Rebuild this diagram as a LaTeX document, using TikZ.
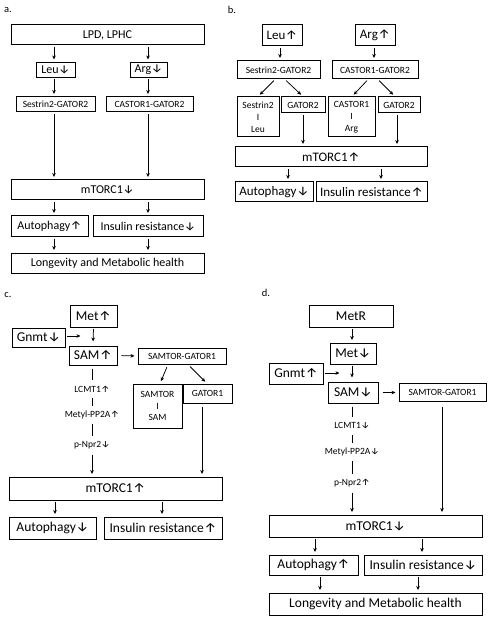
\documentclass[tikz,border=0pt]{standalone}
\usepackage{fontspec}
\setmainfont{Carlito}
\newfontfamily\arrfont{Fira Sans}
\usetikzlibrary{arrows.meta}
\newcommand{\uar}{{\arrfont\kern0.03em ↑}}
\newcommand{\dar}{{\arrfont\kern0.03em ↓}}
\begin{document}
\begin{tikzpicture}[x=1pt,y=-1pt,
  box/.style={draw, line width=1pt, inner sep=0pt, align=center},
  fa/.style={font=\fontsize{12}{14}\selectfont},
  fb/.style={font=\fontsize{13}{15}\selectfont},
  fc/.style={font=\fontsize{13.5}{16}\selectfont},
  fs/.style={font=\fontsize{9.5}{11.8}\selectfont},
  lab/.style={font=\fontsize{10.5}{12}\selectfont},
  arr/.style={-{Stealth[length=4pt,width=3.6pt]}, line width=0.75pt, shorten >=2.5pt, shorten <=1.5pt},
  ln/.style={line width=0.75pt},
  chain/.style={fs, inner sep=0pt, minimum height=16pt}]
\useasboundingbox (0,0) rectangle (489,617);
% ---------------- panel a
\node[lab] (la) at (8,10) {a.};
\node[box,fa,minimum width=193pt,minimum height=20pt] (lpd) at (107.5,35) {LPD, LPHC};
\node[box,fa,minimum width=39pt,minimum height=15pt] (leua) at (55.5,70) {Leu\dar};
\node[box,fa,minimum width=37pt,minimum height=15pt] (arga) at (148.5,70) {Arg\dar};
\node[box,fs,minimum width=79pt,minimum height=15pt] (sesa) at (55.5,104.5) {Sestrin2-GATOR2};
\node[box,fs,minimum width=87pt,minimum height=15pt] (casa) at (149.5,104.5) {CASTOR1-GATOR2};
\node[box,fa,minimum width=193pt,minimum height=20pt] (mta) at (107.5,190) {mTORC1\dar};
\node[box,fa,minimum width=77pt,minimum height=21pt] (auta) at (49.5,226.5) {Autophagy\uar};
\node[box,fa,minimum width=110pt,minimum height=21pt] (insa) at (148,226.5) {Insulin resistance\dar};
\node[box,fa,minimum width=193pt,minimum height=20pt] (lona) at (107.5,263) {Longevity and Metabolic health};
\draw[arr] (lpd.south -| 54,0) -- (leua.north -| 54,0);
\draw[arr] (lpd.south -| 148,0) -- (arga.north -| 148,0);
\draw[arr] (leua.south -| 54,0) -- (sesa.north -| 54,0);
\draw[arr] (arga.south -| 148,0) -- (casa.north -| 148,0);
\draw[arr] (sesa.south -| 54,0) -- (mta.north -| 54,0);
\draw[arr] (casa.south -| 148,0) -- (mta.north -| 148,0);
\draw[arr] (mta.south -| 54,0) -- (auta.north -| 54,0);
\draw[arr] (mta.south -| 148,0) -- (insa.north -| 148,0);
\draw[arr] (auta.south -| 54,0) -- (lona.north -| 54,0);
\draw[arr] (insa.south -| 148,0) -- (lona.north -| 148,0);
% ---------------- panel b
\node[lab] (lb) at (232,10) {b.};
\node[box,fb,minimum width=40pt,minimum height=21pt] (leub) at (282,35.5) {Leu\uar};
\node[box,fb,minimum width=40pt,minimum height=21pt] (argb) at (375,35.5) {Arg\uar};
\node[box,fs,minimum width=83pt,minimum height=18pt] (sesb) at (278.5,70) {Sestrin2-GATOR2};
\node[box,fs,minimum width=86pt,minimum height=18pt] (casb) at (375,70) {CASTOR1-GATOR2};
\node[box,fs,minimum width=42pt,minimum height=40pt] (slb) at (258,117) {Sestrin2\\I\\Leu};
\node[box,fs,minimum width=44pt,minimum height=16pt] (gab) at (303,105) {GATOR2};
\node[box,fs,minimum width=47pt,minimum height=40pt] (calb) at (351.5,117) {CASTOR1\\I\\Arg};
\node[box,fs,minimum width=42pt,minimum height=16pt] (gbb) at (399,105) {GATOR2};
\node[box,fb,minimum width=192pt,minimum height=20pt] (mtb) at (331,157) {mTORC1\uar};
\node[box,fb,minimum width=78pt,minimum height=20pt] (autb) at (274,192) {Autophagy\dar};
\node[box,fb,minimum width=111pt,minimum height=20pt] (insb) at (371.5,192) {Insulin resistance\uar};
\draw[arr] (leub.south -| 280,0) -- (sesb.north -| 280,0);
\draw[arr] (argb.south -| 374,0) -- (casb.north -| 374,0);
\draw[arr] (sesb.south -| 275,0) -- (slb.north -| 258,0);
\draw[arr] (sesb.south -| 285,0) -- (gab.north -| 303,0);
\draw[arr] (casb.south -| 368,0) -- (calb.north -| 352,0);
\draw[arr] (casb.south -| 378,0) -- (gbb.north -| 395,0);
\draw[arr] (gab.south -| 303,0) -- (mtb.north -| 303,0);
\draw[arr] (gbb.south -| 397,0) -- (mtb.north -| 397,0);
\draw[arr] (mtb.south -| 288,0) -- (autb.north -| 288,0);
\draw[arr] (mtb.south -| 381,0) -- (insb.north -| 381,0);
% ---------------- panel c
\node[lab] (lc) at (8,295) {c.};
\node[box,fc,minimum width=47pt,minimum height=22pt] (metc) at (93.5,316) {Met\uar};
\node[box,fc,minimum width=53pt,minimum height=19pt] (gnc) at (38.5,337.5) {Gnmt\dar};
\node[box,fc,minimum width=48pt,minimum height=19pt] (samc) at (93,355.5) {SAM\uar};
\node[box,fs,minimum width=88pt,minimum height=16pt] (stc) at (182,356) {SAMTOR-GATOR1};
\node[box,fs,minimum width=49pt,minimum height=44pt] (ssc) at (157.5,406) {SAMTOR\\I\\SAM};
\node[box,fs,minimum width=49pt,minimum height=19pt] (g1c) at (207.5,393.5) {GATOR1};
\node[chain] (lcc) at (92,389) {LCMT1\uar};
\node[chain] (mpc) at (92,415) {Metyl-PP2A\uar};
\node[chain] (npc) at (92,445) {p-Npr2\dar};
\node[box,fc,minimum width=213pt,minimum height=23pt] (mtc) at (115.5,488.5) {mTORC1\uar};
\node[box,fc,minimum width=87pt,minimum height=22pt] (autc) at (52.5,528) {Autophagy\dar};
\node[box,fc,minimum width=118pt,minimum height=22pt] (insc) at (163,528) {Insulin resistance\uar};
\coordinate (gcend) at (83,336);
\draw[arr] (gnc.east |- gcend) -- (gcend);
\draw[arr, shorten >=4pt] (metc.south) -- (samc.north);
\draw[arr, shorten <=4pt, shorten >=3pt] (samc.east) -- (stc.west);
\draw[arr, shorten <=3pt] (stc.south -| 168,0) -- (ssc.north -| 160,0);
\draw[arr, shorten <=3pt] (stc.south -| 188,0) -- (g1c.north -| 207,0);
\draw[ln, shorten <=3pt, shorten >=1pt] (samc.south -| 92,0) -- (lcc.north);
\draw[ln, shorten <=1pt, shorten >=1pt] (lcc.south) -- (mpc.north);
\draw[ln, shorten <=1pt, shorten >=1pt] (mpc.south) -- (npc.north);
\draw[arr] (npc.south) -- (mtc.north -| npc.south);
\draw[arr, shorten <=3pt] (g1c.south -| 202,0) -- (mtc.north -| 202,0);
\draw[arr] (mtc.south -| 55,0) -- (autc.north -| 55,0);
\draw[arr] (mtc.south -| 162,0) -- (insc.north -| 162,0);
% ---------------- panel d
\node[lab] (ld) at (266,293) {d.};
\node[box,fc,minimum width=84pt,minimum height=22pt] (metr) at (351,316) {MetR};
\node[box,fc,minimum width=46pt,minimum height=21pt] (metd) at (353,353.5) {Met\dar};
\node[box,fc,minimum width=54pt,minimum height=21pt] (gnd) at (296,373.5) {Gnmt\uar};
\node[box,fc,minimum width=50pt,minimum height=21pt] (samd) at (353,392.5) {SAM\dar};
\node[box,fs,minimum width=87pt,minimum height=18pt] (std) at (442.5,392) {SAMTOR-GATOR1};
\node[chain] (lcd) at (352,426) {LCMT1\dar};
\node[chain] (mpd) at (352,452) {Metyl-PP2A\dar};
\node[chain] (npd) at (352,483) {p-Npr2\uar};
\node[box,fc,minimum width=213pt,minimum height=22pt] (mtd) at (375.5,526) {mTORC1\dar};
\node[box,fc,minimum width=89pt,minimum height=20pt] (autd) at (313.5,565) {Autophagy\uar};
\node[box,fc,minimum width=118pt,minimum height=20pt] (insd) at (423,565) {Insulin resistance\dar};
\node[box,fc,minimum width=213pt,minimum height=22pt] (lond) at (375.5,604) {Longevity and Metabolic health};
\coordinate (gdend) at (342,373);
\draw[arr] (gnd.east |- gdend) -- (gdend);
\draw[arr] (metr.south -| 352,0) -- (metd.north -| 352,0);
\draw[arr, shorten >=4pt] (metd.south -| 352,0) -- (samd.north -| 352,0);
\draw[arr, shorten <=4pt, shorten >=3pt] (samd.east) -- (std.west |- samd.east);
\draw[ln, shorten <=3pt, shorten >=1pt] (samd.south -| 352,0) -- (lcd.north);
\draw[ln, shorten <=1pt, shorten >=1pt] (lcd.south) -- (mpd.north);
\draw[ln, shorten <=1pt, shorten >=1pt] (mpd.south) -- (npd.north);
\draw[arr] (npd.south) -- (mtd.north -| npd.south);
\draw[arr, shorten <=5pt] (std.south -| 442,0) -- (mtd.north -| 442,0);
\draw[arr] (mtd.south -| 315,0) -- (autd.north -| 315,0);
\draw[arr] (mtd.south -| 422,0) -- (insd.north -| 422,0);
\draw[arr] (autd.south -| 320,0) -- (lond.north -| 320,0);
\draw[arr] (insd.south -| 418,0) -- (lond.north -| 418,0);
\end{tikzpicture}
\end{document}
